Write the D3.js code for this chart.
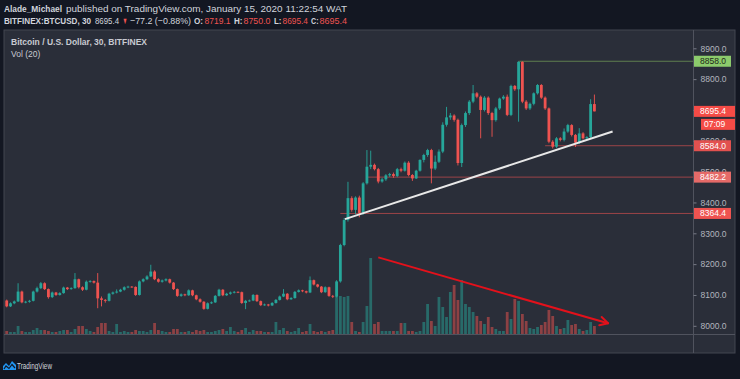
<!DOCTYPE html>
<html>
<head>
<meta charset="utf-8">
<title>BTCUSD 30</title>
<script src="https://cdn.jsdelivr.net/npm/d3@7"></script>
<style>
  body { margin: 0; background: #131722; font-family: "Liberation Sans", Arial, sans-serif; }
  svg { display: block; }
  .axis text { fill: #b2b5be; font-size: 8.5px; font-family: "Liberation Sans", Arial, sans-serif; }
  .axis line { stroke: #787b86; }
</style>
</head>
<body>
<svg id="chart" width="740" height="379"></svg>
<script>
// 30-minute bars, first bar opens Jan 12 2020 05:30 UTC
var firstBar = Date.UTC(2020, 0, 12, 5, 30);

var open = [
  8082, 8063, 8073, 8079, 8111, 8076, 8078, 8081, 8111, 8122, 8138, 8119,
  8093, 8108, 8100, 8106, 8124, 8119, 8122, 8151, 8125, 8117, 8143, 8145,
  8140, 8089, 8084, 8081, 8104, 8108, 8111, 8117, 8125, 8127, 8126, 8100,
  8144, 8151, 8160, 8176, 8151, 8143, 8147, 8151, 8140, 8119, 8097, 8102,
  8099, 8115, 8099, 8086, 8078, 8055, 8073, 8076, 8097, 8117, 8099, 8104,
  8108, 8110, 8109, 8074, 8081, 8082, 8100, 8080, 8067, 8069, 8066, 8074,
  8084, 8095, 8104, 8086, 8090, 8110, 8115, 8112, 8108, 8148, 8134, 8127,
  8109, 8125, 8097, 8095, 8144, 8262, 8343, 8414, 8376, 8416, 8366, 8462,
  8516, 8522, 8508, 8468, 8475, 8488, 8492, 8486, 8508, 8503, 8529, 8489,
  8478, 8503, 8538, 8554, 8570, 8510, 8532, 8565, 8652, 8676, 8682, 8668,
  8528, 8651, 8690, 8727, 8754, 8743, 8700, 8740, 8690, 8667, 8705, 8737,
  8743, 8684, 8778, 8767, 8856, 8727, 8705, 8720, 8754, 8781, 8740, 8705,
  8597, 8581, 8608, 8603, 8630, 8651, 8619, 8594, 8624, 8608, 8612, 8719.1
];
var high = [
  8085, 8076, 8082, 8138, 8114, 8081, 8084, 8114, 8127, 8142, 8141, 8121,
  8111, 8110, 8109, 8127, 8126, 8125, 8171, 8153, 8128, 8147, 8148, 8147,
  8171, 8095, 8087, 8107, 8111, 8118, 8120, 8128, 8130, 8129, 8128, 8147,
  8154, 8164, 8198, 8180, 8154, 8150, 8154, 8153, 8142, 8121, 8105, 8104,
  8118, 8117, 8101, 8089, 8080, 8076, 8079, 8100, 8120, 8119, 8107, 8111,
  8113, 8112, 8111, 8084, 8085, 8103, 8102, 8082, 8072, 8071, 8077, 8087,
  8098, 8119, 8106, 8093, 8113, 8118, 8117, 8114, 8160, 8150, 8136, 8129,
  8128, 8127, 8100, 8148, 8266, 8350, 8467, 8420, 8420, 8422, 8466, 8570,
  8568, 8526, 8512, 8480, 8492, 8496, 8497, 8512, 8513, 8533, 8534, 8492,
  8506, 8540, 8558, 8574, 8574, 8552, 8572, 8660, 8710, 8690, 8686, 8672,
  8656, 8695, 8732, 8781, 8758, 8747, 8745, 8744, 8694, 8710, 8740, 8748,
  8750, 8782, 8781, 8858, 8858, 8732, 8724, 8757, 8784, 8784, 8744, 8708,
  8602, 8612, 8612, 8640, 8655, 8654, 8622, 8641, 8628, 8615, 8735, 8750.0
];
var low = [
  8060, 8061, 8070, 8077, 8073, 8073, 8075, 8079, 8108, 8119, 8116, 8088,
  8090, 8097, 8098, 8104, 8116, 8117, 8120, 8121, 8113, 8115, 8140, 8137,
  8057, 8063, 8075, 8079, 8101, 8105, 8109, 8114, 8122, 8123, 8097, 8098,
  8141, 8148, 8158, 8148, 8140, 8140, 8144, 8137, 8116, 8094, 8094, 8096,
  8097, 8096, 8083, 8075, 8052, 8053, 8071, 8074, 8095, 8096, 8097, 8101,
  8105, 8106, 8071, 8054, 8078, 8080, 8077, 8064, 8065, 8063, 8064, 8072,
  8082, 8093, 8083, 8084, 8088, 8108, 8109, 8105, 8106, 8131, 8124, 8106,
  8107, 8094, 8090, 8092, 8140, 8258, 8338, 8370, 8362, 8352, 8360, 8458,
  8508, 8504, 8462, 8464, 8470, 8483, 8480, 8482, 8498, 8500, 8485, 8470,
  8476, 8500, 8530, 8548, 8462, 8505, 8528, 8560, 8646, 8668, 8662, 8520,
  8515, 8645, 8684, 8722, 8738, 8608, 8695, 8684, 8613, 8662, 8700, 8733,
  8680, 8680, 8762, 8662, 8722, 8700, 8700, 8715, 8750, 8736, 8700, 8592,
  8575, 8577, 8598, 8598, 8626, 8614, 8580, 8590, 8604, 8604, 8608, 8695.4
];
var close = [
  8063, 8073, 8079, 8111, 8076, 8078, 8081, 8111, 8122, 8138, 8119, 8093,
  8108, 8100, 8106, 8124, 8119, 8122, 8151, 8125, 8117, 8143, 8145, 8140,
  8089, 8084, 8081, 8104, 8108, 8111, 8117, 8125, 8127, 8126, 8100, 8144,
  8151, 8160, 8176, 8151, 8143, 8147, 8151, 8140, 8119, 8097, 8102, 8099,
  8115, 8099, 8086, 8078, 8055, 8073, 8076, 8097, 8117, 8099, 8104, 8108,
  8110, 8109, 8074, 8081, 8082, 8100, 8080, 8067, 8069, 8066, 8074, 8084,
  8095, 8104, 8086, 8090, 8110, 8115, 8112, 8108, 8148, 8134, 8127, 8109,
  8125, 8097, 8095, 8144, 8262, 8343, 8414, 8376, 8416, 8366, 8462, 8516,
  8522, 8508, 8468, 8475, 8488, 8492, 8486, 8508, 8503, 8529, 8489, 8478,
  8503, 8538, 8554, 8570, 8510, 8532, 8565, 8652, 8676, 8682, 8668, 8528,
  8651, 8690, 8727, 8754, 8743, 8700, 8740, 8690, 8667, 8705, 8737, 8743,
  8684, 8778, 8767, 8856, 8727, 8705, 8720, 8754, 8781, 8740, 8705, 8597,
  8581, 8608, 8603, 8630, 8651, 8619, 8594, 8624, 8608, 8612, 8719.1, 8695.4
];
var volume = [
  30, 20, 20, 80, 30, 20, 20, 40, 60, 40, 40, 30,
  20, 20, 30, 40, 40, 20, 50, 80, 80, 50, 30, 20,
  70, 110, 110, 30, 20, 100, 20, 30, 20, 20, 40, 30,
  30, 20, 40, 110, 40, 30, 20, 20, 50, 50, 20, 20,
  30, 20, 40, 30, 40, 20, 20, 30, 40, 50, 30, 70,
  30, 20, 40, 60, 20, 40, 30, 30, 20, 20, 20, 120,
  40, 60, 30, 20, 30, 60, 20, 30, 100, 30, 20, 30,
  20, 30, 40, 380, 380, 370, 380, 120, 30, 20, 120, 280,
  760, 100, 120, 30, 30, 30, 30, 30, 110, 110, 30, 30,
  20, 30, 120, 300, 130, 80, 370, 270, 170, 420, 490, 340,
  540, 300, 270, 220, 180, 130, 100, 170, 70, 50, 30, 30,
  220, 150, 350, 330, 200, 130, 60, 50, 70, 90, 120, 240,
  180, 80, 50, 60, 140, 90, 100, 50, 30, 40, 120, 80
];

var priceTicks = [8000, 8100, 8200, 8300, 8400, 8500, 8600, 8700, 8800, 8900];
// horizontal levels drawn on the chart: price, first bar index, colour
var levelPrice = [8858.0, 8584.0, 8482.2, 8364.4];
var levelStart = [135, 142, 95, 88];
var levelColor = ['#5f7f4f', '#9c4448', '#9c4448', '#9c4448'];
var levelBox = ['#8ccb6c', '#e2514f', '#e56a68', '#ef5350'];
// trend lines: [bar index, price]
var supportLine = [[89.2, 8346], [159.8, 8630]];
var volumeArrow = [[98.0, 8222], [158.6, 8008]];

var W = 740, H = 379;
var L = 4, R = 693, T = 30, B = 334, AR = 735, AB = 353;
var up = '#26a69a', down = '#ef5350';

var svg = d3.select('#chart');

var barTime = function(i) { return new Date(firstBar + i * 1800000); };

var x = d3.scaleUtc()
    .domain([new Date(Date.UTC(2020, 0, 12, 12)), new Date(Date.UTC(2020, 0, 16))])
    .range([56, 693]);
var y = d3.scaleLinear().domain([8000, 8900]).range([325.8, 48.3]);
var yVol = d3.scaleLinear().domain([0, 760]).range([B, 258]);

// background panes
svg.append('rect').attr('width', W).attr('height', H).attr('fill', '#131722');
svg.append('rect').attr('x', L).attr('y', T).attr('width', AR - L).attr('height', AB - T)
   .attr('fill', '#2a2e39').attr('stroke', '#434651').attr('stroke-width', 1);

var defs = svg.append('defs');
defs.append('clipPath').attr('id', 'plotClip')
    .append('rect').attr('x', L).attr('y', T).attr('width', R - L).attr('height', B - T);

var plot = svg.append('g').attr('clip-path', 'url(#plotClip)');

var idx = d3.range(close.length);
var bw = 2.8;

// volume
plot.append('g').selectAll('rect').data(idx).enter().append('rect')
    .attr('x', function(i) { return x(barTime(i)) - bw / 2; })
    .attr('y', function(i) { return yVol(volume[i]); })
    .attr('width', bw)
    .attr('height', function(i) { return B - yVol(volume[i]); })
    .attr('fill', function(i) { return close[i] >= open[i] ? up : down; })
    .attr('fill-opacity', 0.5);

// levels
levelPrice.forEach(function(p, j) {
    plot.append('line')
        .attr('x1', x(barTime(levelStart[j]))).attr('x2', R)
        .attr('y1', y(p)).attr('y2', y(p))
        .attr('stroke', levelColor[j]).attr('stroke-width', 1);
});

// candles
var candle = plot.append('g').selectAll('g').data(idx).enter().append('g');
candle.append('line')
    .attr('x1', function(i) { return x(barTime(i)); })
    .attr('x2', function(i) { return x(barTime(i)); })
    .attr('y1', function(i) { return y(high[i]); })
    .attr('y2', function(i) { return y(low[i]); })
    .attr('stroke', function(i) { return close[i] >= open[i] ? up : down; })
    .attr('stroke-width', 0.9);
candle.append('rect')
    .attr('x', function(i) { return x(barTime(i)) - bw / 2; })
    .attr('y', function(i) { return y(Math.max(open[i], close[i])); })
    .attr('width', bw)
    .attr('height', function(i) { return Math.max(0.8, Math.abs(y(open[i]) - y(close[i]))); })
    .attr('fill', function(i) { return close[i] >= open[i] ? up : down; });

// drawings
var line = d3.line()
    .x(function(d) { return x(barTime(d[0])); })
    .y(function(d) { return y(d[1]); });
plot.append('path').datum(supportLine).attr('d', line)
    .attr('stroke', '#e8e8e8').attr('stroke-width', 2).attr('fill', 'none');
plot.append('path').datum(volumeArrow).attr('d', line)
    .attr('stroke', '#e3111b').attr('stroke-width', 2).attr('fill', 'none');
var ax0 = x(barTime(volumeArrow[0][0])), ay0 = y(volumeArrow[0][1]);
var ax1 = x(barTime(volumeArrow[1][0])), ay1 = y(volumeArrow[1][1]);
var ang = Math.atan2(ay1 - ay0, ax1 - ax0);
[-0.5, 0.5].forEach(function(da) {
    plot.append('line')
        .attr('x1', ax1).attr('y1', ay1)
        .attr('x2', ax1 - 9 * Math.cos(ang + da)).attr('y2', ay1 - 9 * Math.sin(ang + da))
        .attr('stroke', '#e3111b').attr('stroke-width', 2).attr('stroke-linecap', 'round');
});

// axes frame
svg.append('line').attr('x1', R + 0.5).attr('x2', R + 0.5).attr('y1', T).attr('y2', AB)
   .attr('stroke', '#50535e');
svg.append('line').attr('x1', L).attr('x2', AR).attr('y1', B + 0.5).attr('y2', B + 0.5)
   .attr('stroke', '#50535e');

// price axis
var yAxis = d3.axisRight(y).tickValues(priceTicks).tickSize(3).tickPadding(4)
    .tickFormat(d3.format('.1f'));
svg.append('g').attr('class', 'axis').attr('transform', 'translate(' + (R + 0.5) + ',0)')
   .call(yAxis).call(function(g) { g.select('.domain').remove(); });

// time axis
defs.append('clipPath').attr('id', 'timeClip')
    .append('rect').attr('x', L).attr('y', B).attr('width', R - L).attr('height', AB - B);
var xAxis = d3.axisBottom(x).ticks(d3.utcHour.every(12)).tickSize(3)
    .tickFormat(function(d) { return d.getUTCHours() === 0 ? d3.utcFormat('%-d')(d) : '12:00'; });
svg.append('g').attr('class', 'axis').attr('clip-path', 'url(#timeClip)')
   .attr('transform', 'translate(0,' + (B + 0.5) + ')')
   .call(xAxis)
   .call(function(g) {
       g.select('.domain').remove();
       g.selectAll('text').attr('y', 13).attr('dy', 0);
   });

// price label boxes
function priceBox(v, fill, txtFill, w) {
    svg.append('rect').attr('x', R + 1).attr('y', y(v) - 5.5).attr('width', w).attr('height', 11)
       .attr('fill', fill);
    svg.append('text').attr('x', R + 7).attr('y', y(v) + 3).attr('font-size', 8.5)
       .attr('fill', txtFill).text(d3.format('.1f')(v));
}
levelPrice.forEach(function(p, j) {
    priceBox(p, levelBox[j], j === 0 ? '#1e2a18' : '#ffffff', 37);
});
var last = close[close.length - 1];
priceBox(last, '#f44b46', '#ffffff', 41);
svg.append('rect').attr('x', R + 8).attr('y', y(last) + 7.5).attr('width', 34).attr('height', 11)
   .attr('fill', '#f44b46');
svg.append('text').attr('x', R + 11).attr('y', y(last) + 16).attr('font-size', 8.5)
   .attr('fill', '#ffffff').text('07:09');

// pane legend
svg.append('text').attr('x', 11).attr('y', 45).attr('font-size', 8.5).attr('font-weight', 'bold')
   .attr('fill', '#c8cad1').text('Bitcoin / U.S. Dollar, 30, BITFINEX');
svg.append('text').attr('x', 11).attr('y', 56.5).attr('font-size', 8.5)
   .attr('fill', '#c8cad1').text('Vol (20)');

// header: [text, x, width, bold, colour]
var header1 = [
    ['Alade_Michael', 4, 58, true, '#d1d4dc'],
    ['published on TradingView.com, January 15, 2020 11:22:54 WAT', 66, 281, false, '#d1d4dc']
];
var header2 = [
    ['BITFINEX:BTCUSD, 30', 4, 87, true, '#d1d4dc'],
    ['8695.4', 95, 24, false, '#d1d4dc'],
    ['▼', 122.5, 5, false, down],
    ['−77.2 (−0.88%)', 130, 61, false, '#d1d4dc'],
    ['O:', 194, 9, true, '#d1d4dc'], ['8719.1', 204.5, 26, false, down],
    ['H:', 234, 8.5, true, '#d1d4dc'], ['8750.0', 243.5, 27, false, down],
    ['L:', 274, 7.5, true, '#d1d4dc'], ['8695.4', 282.5, 25.5, false, down],
    ['C:', 311, 7.5, true, '#d1d4dc'], ['8695.4', 319.5, 27.5, false, down]
];
function headerRow(parts, yy) {
    parts.forEach(function(p) {
        svg.append('text').attr('x', p[1]).attr('y', yy).attr('font-size', 9.4)
           .attr('font-weight', p[3] ? 'bold' : 'normal').attr('fill', p[4])
           .attr('textLength', p[2]).attr('lengthAdjust', 'spacingAndGlyphs')
           .text(p[0]);
    });
}
headerRow(header1, 11.5);
headerRow(header2, 23.5);

// footer logo
var logo = svg.append('g').attr('transform', 'translate(3,360)');
logo.append('path')
    .attr('d', 'M0,10 L0,6 L3,3 L6,6 L9,1 L13,5 L13,10 Z')
    .attr('fill', '#2196f3');
logo.append('path').attr('d', 'M1,9 L3,6 L6,8.5 L9,4.5 L12,8')
    .attr('stroke', '#131722').attr('stroke-width', 1.2).attr('fill', 'none');
svg.append('text').attr('x', 17).attr('y', 369).attr('font-size', 8.5).attr('fill', '#d1d4dc')
   .attr('textLength', 35).attr('lengthAdjust', 'spacingAndGlyphs')
   .text('TradingView');
</script>
</body>
</html>
